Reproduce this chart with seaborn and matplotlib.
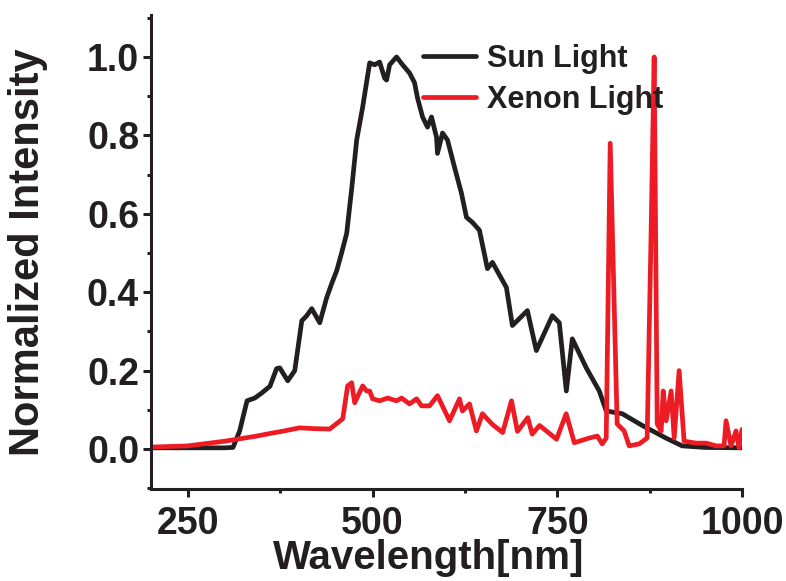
import matplotlib
matplotlib.use("Agg")
import matplotlib.pyplot as plt
from matplotlib.ticker import MultipleLocator
import seaborn as sns
import pandas as pd

# Sun light spectrum (wavelength nm, normalized intensity)
sun_wl = [201, 250, 300, 311, 320, 330, 340.5, 350, 361, 370, 374.3, 385.1, 394.6,
          404.1, 410.8, 417.6, 428.4, 437.8, 444.6, 451.4, 458, 464.9, 472, 478.4,
          486.5, 496, 502.7, 509.5, 516.2, 518.9, 523, 532.4, 540.5, 550, 556.8,
          560.8, 567.6, 574.3, 579.7, 586.5, 587.8, 594.6, 601.4, 610.8, 620.3,
          627, 635.1, 644.6, 655.4, 662.2, 681.1, 689.2, 709.5, 721.6, 743.3,
          752.7, 762.2, 770.3, 789.2, 806.8, 816.2, 837.9, 865, 897, 919, 950, 1000]
sun_int = [0.003, 0.003, 0.003, 0.004, 0.046, 0.123, 0.13, 0.143, 0.16, 0.205, 0.207,
           0.174, 0.2, 0.327, 0.34, 0.358, 0.322, 0.386, 0.422, 0.455, 0.5, 0.55,
           0.67, 0.788, 0.872, 0.985, 0.98, 0.987, 0.946, 0.941, 0.98, 1.0, 0.98,
           0.959, 0.934, 0.895, 0.847, 0.821, 0.847, 0.795, 0.754, 0.806, 0.788,
           0.719, 0.652, 0.591, 0.578, 0.558, 0.46, 0.476, 0.412, 0.315, 0.353,
           0.251, 0.34, 0.322, 0.148, 0.281, 0.207, 0.148, 0.097, 0.09, 0.06, 0.028,
           0.008, 0.004, 0.003]

# Xenon light spectrum
xe_wl = [201, 250, 300, 340, 365, 380, 401, 420, 441.9, 459.5, 466.2, 471.6, 475.7,
         486.5, 491.9, 496, 500, 509.5, 520.3, 532.4, 539.2, 550, 559.5, 566.2, 577,
         587.8, 604.1, 617.6, 621.6, 631.1, 640.5, 648.6, 662, 676, 688, 696, 710,
         716, 726, 749, 762, 773, 793.2, 804.1, 810.8, 816.2, 821.6, 831, 840.5,
         847.3, 860.8, 871.6, 877, 881.1, 885.2, 890.6, 893.3, 897.3, 904.1, 908.2,
         914.9, 921.6, 937.9, 951.4, 964.9, 975.7, 978.4, 985.1, 991.9, 996, 1000]
xe_int = [0.005, 0.008, 0.02, 0.032, 0.041, 0.046, 0.054, 0.052, 0.051, 0.077, 0.161,
          0.169, 0.118, 0.161, 0.148, 0.148, 0.128, 0.123, 0.13, 0.123, 0.13, 0.115,
          0.128, 0.11, 0.11, 0.136, 0.072, 0.128, 0.097, 0.115, 0.046, 0.09, 0.063,
          0.042, 0.123, 0.045, 0.08, 0.038, 0.06, 0.025, 0.09, 0.016, 0.028, 0.033,
          0.013, 0.028, 0.78, 0.064, 0.046, 0.008, 0.013, 0.028, 0.557, 1.0, 0.064,
          0.046, 0.148, 0.072, 0.148, 0.028, 0.2, 0.02, 0.015, 0.015, 0.008, 0.008,
          0.072, 0.008, 0.046, 0.003, 0.05]

series_names = ["Sun Light", "Xenon Light"]
colors = ["#231F20", "#ED1C24"]
x_ticks = [250, 500, 750, 1000]
y_ticks = [0.0, 0.2, 0.4, 0.6, 0.8, 1.0]

df = pd.concat([
    pd.DataFrame({"wl": sun_wl, "I": sun_int, "src": series_names[0]}),
    pd.DataFrame({"wl": xe_wl, "I": xe_int, "src": series_names[1]}),
])

sns.set_style("ticks")
plt.rcParams["font.family"] = ["Liberation Sans", "DejaVu Sans"]
plt.rcParams["font.weight"] = "bold"

fig = plt.figure(figsize=(7.86, 5.81), dpi=100)
ax = fig.add_axes([151 / 786, 1 - 489 / 581, (742 - 151) / 786, (489 - 15) / 581])

sns.lineplot(data=df, x="wl", y="I", hue="src", palette=colors, ax=ax,
             linewidth=3.4, sort=False, estimator=None, legend=True)

ax.set_xlim(200, 1000)
ax.set_ylim(-0.102, 1.107)
ax.set_xticks(x_ticks)
ax.set_xticklabels([str(t) for t in x_ticks])
ax.set_yticks(y_ticks)
ax.set_yticklabels([f"{t:.1f}" for t in y_ticks])
ax.xaxis.set_minor_locator(MultipleLocator(125))
ax.yaxis.set_minor_locator(MultipleLocator(0.1))

for s in ["top", "right"]:
    ax.spines[s].set_visible(False)
for s in ["left", "bottom"]:
    ax.spines[s].set_linewidth(2.2)
    ax.spines[s].set_color("#231F20")

ax.tick_params(axis="both", which="major", direction="out", length=5.5, width=2.2,
               colors="#231F20", labelsize=27)
ax.tick_params(axis="x", which="major", pad=7)
ax.tick_params(axis="y", which="major", pad=3)
ax.tick_params(axis="both", which="minor", direction="out", length=3, width=2.2,
               colors="#231F20")
for lab in ax.get_xticklabels() + ax.get_yticklabels():
    lab.set_fontweight("bold")

ax.set_xlabel("Wavelength[nm]", fontsize=29, fontweight="bold", color="#231F20")
ax.xaxis.set_label_coords((429 - 151) / 591, -(558 - 489) / 474, transform=ax.transAxes)
ax.xaxis.label.set_verticalalignment("center")
ax.set_ylabel("Normalized Intensity", fontsize=30, fontweight="bold", color="#231F20")
ax.yaxis.set_label_coords(-(151 - 28) / 591, (489 - 252) / 474, transform=ax.transAxes)
ax.yaxis.label.set_verticalalignment("center")

leg = ax.legend(loc="upper left", bbox_to_anchor=((423 - 151) / 591, 1 - (44 - 15) / 474),
                frameon=False, fontsize=22, handlelength=1.75, handletextpad=0.33,
                labelspacing=0.35, borderaxespad=0, borderpad=0)
for t in leg.get_texts():
    t.set_fontweight("bold")
    t.set_color("#231F20")
for line in leg.get_lines():
    line.set_linewidth(3.4)

fig.savefig("out.png", dpi=100)
